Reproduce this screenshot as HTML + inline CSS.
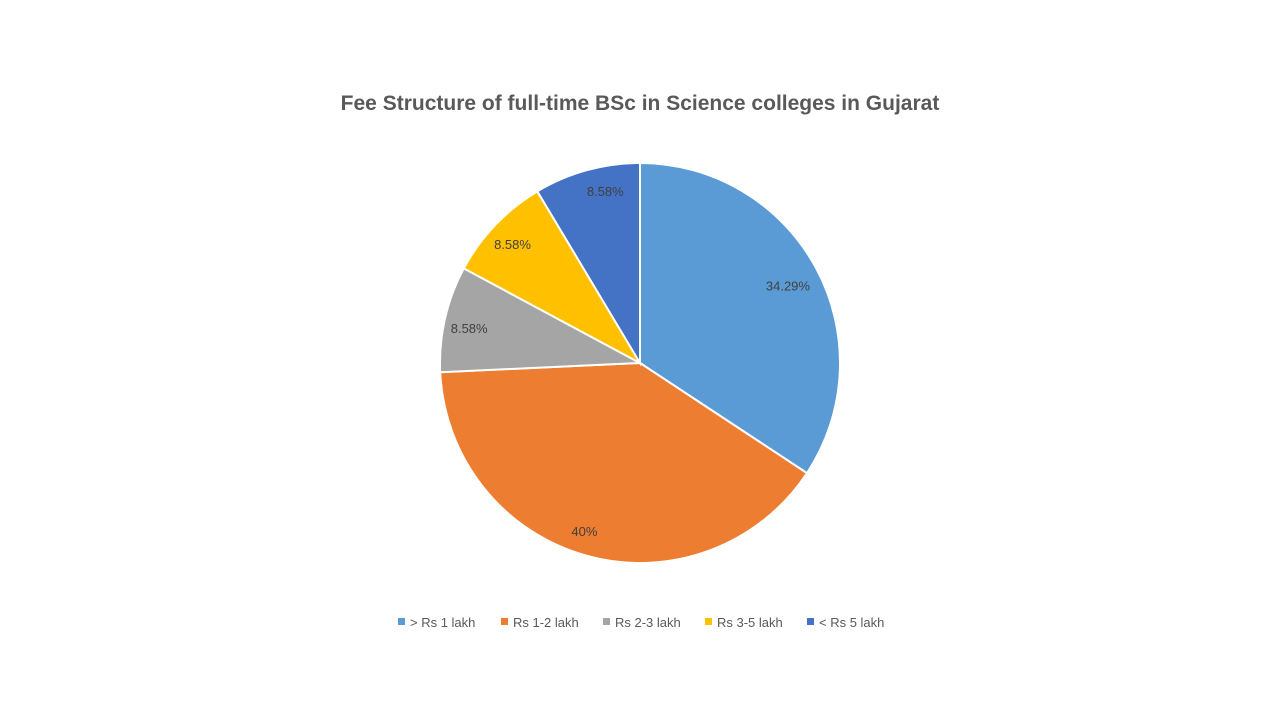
<!DOCTYPE html>
<html>
<head>
<meta charset="utf-8">
<style>
  html,body{margin:0;padding:0;background:#fff;}
  body{width:1280px;height:720px;overflow:hidden;font-family:"Liberation Sans",sans-serif;}
  svg text{font-family:"Liberation Sans",sans-serif;}
</style>
</head>
<body>
<svg id="chart" width="1280" height="720" viewBox="0 0 1280 720">
  <text x="640" y="110" text-anchor="middle" font-size="21" font-weight="bold" fill="#595959">Fee Structure of full-time BSc in Science colleges in Gujarat</text>
  <g id="slices"></g>
  <g id="labels"></g>
  <g id="legend"></g>
</svg>
<script>
const categories = ["> Rs 1 lakh", "Rs 1-2 lakh", "Rs 2-3 lakh", "Rs 3-5 lakh", "< Rs 5 lakh"];
const values = [34.29, 40, 8.58, 8.58, 8.58];
const valueLabels = ["34.29%", "40%", "8.58%", "8.58%", "8.58%"];
const colors = ["#5B9BD5", "#ED7D31", "#A5A5A5", "#FFC000", "#4472C4"];

const NS = "http://www.w3.org/2000/svg";
const cx = 640, cy = 363, r = 200;
const nudgeX = [0, -11, -7, -6, 10];
const nudgeY = [2, 6, 2, -3, -10];
const total = values.reduce((a, b) => a + b, 0);
const slices = document.getElementById("slices");
const labels = document.getElementById("labels");
const legend = document.getElementById("legend");
function pt(angle, rad) { return [cx + rad * Math.sin(angle), cy - rad * Math.cos(angle)]; }
let a0 = 0;
values.forEach((v, i) => {
  const a1 = a0 + v / total * Math.PI * 2;
  const [x0, y0] = pt(a0, r), [x1, y1] = pt(a1, r);
  const large = (a1 - a0) > Math.PI ? 1 : 0;
  const p = document.createElementNS(NS, "path");
  
  
  p.setAttribute("d", `M${cx},${cy} L${x0},${y0} A${r},${r} 0 ${large} 1 ${x1},${y1} Z`);
  p.setAttribute("fill", colors[i]);
  p.setAttribute("stroke", "#fff");
  p.setAttribute("stroke-width", "2");
  slices.appendChild(p);
  const mid = (a0 + a1) / 2;
  const [lx, ly] = pt(mid, r * 0.84);
  const t = document.createElementNS(NS, "text");
  
  
  t.setAttribute("x", lx + nudgeX[i]); t.setAttribute("y", ly + 5 + nudgeY[i]);
  t.setAttribute("text-anchor", "middle");
  t.setAttribute("font-size", "13"); t.setAttribute("fill", "#404040");
  t.textContent = valueLabels[i];
  labels.appendChild(t);
  a0 = a1;
});
const legX = [398, 501, 603, 705, 807];
categories.forEach((c, i) => {
  const g = document.createElementNS(NS, "g");
  
  
  const s = document.createElementNS(NS, "rect");
  
  
  s.setAttribute("x", legX[i]); s.setAttribute("y", 618);
  s.setAttribute("width", 7); s.setAttribute("height", 7);
  s.setAttribute("fill", colors[i]);
  const t = document.createElementNS(NS, "text");
  
  
  t.setAttribute("x", legX[i] + 12); t.setAttribute("y", 627);
  t.setAttribute("font-size", "13"); t.setAttribute("fill", "#595959");
  t.textContent = c;
  g.appendChild(s); g.appendChild(t);
  legend.appendChild(g);
});
</script>
</body>
</html>
